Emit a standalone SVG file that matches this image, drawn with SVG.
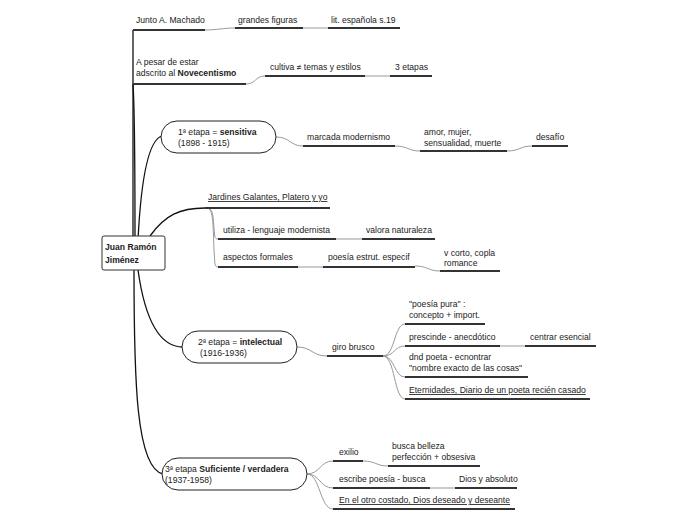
<svg xmlns="http://www.w3.org/2000/svg" width="696" height="520" viewBox="0 0 696 520">
<style>
text{font-family:"Liberation Sans",Arial,sans-serif;font-size:8.6px;fill:#222}
.b{font-weight:bold}
.u{text-decoration:underline}
.ul{stroke:#333;stroke-width:2;fill:none}
.g{stroke:#999;stroke-width:1;fill:none}
.t{stroke:#111;stroke-width:1.3;fill:none}
.pill{fill:#fff;stroke:#222;stroke-width:1}
</style>
<rect width="696" height="520" fill="#fff"/>
<g id="connectors">
<path class="t" d="M133,240 L133,30"/>
<path class="t" d="M135,240 C135,160 134,100 133,84"/>
<path class="t" d="M138,240 C141,180 148,140 162,136"/>
<path class="t" d="M150,236 C165,215 180,208 205,208"/>
<path class="t" d="M138,270 C145,320 160,347 183,347"/>
<path class="t" d="M134,270 C134,380 136,468 163,474"/>
<path class="g" d="M205,30 C218,30 222,28 235,28"/>
<path class="g" d="M303,28 L328,28"/>
<path class="g" d="M246,84 C256,84 255,76 265,76"/>
<path class="g" d="M365,76 L390,76"/>
<path class="g" d="M276,137 C290,137 290,146 303,146"/>
<path class="g" d="M395,146 C408,146 408,151 420,151"/>
<path class="g" d="M507,151 C520,151 520,146 532,146"/>
<path class="g" d="M207,208 C214,208 213,220 214,228 C215,236 214,239 218,239"/>
<path class="g" d="M207,208 C214,208 213,230 214,250 C215,262 214,267 218,267"/>
<path class="g" d="M336,239 L362,239"/>
<path class="g" d="M298,267 L323,267"/>
<path class="g" d="M415,266 C428,266 428,271 440,271"/>
<path class="g" d="M297,347 C312,347 312,356 327,356"/>
<path class="g" d="M383,356 C395,356 394,324 405,324"/>
<path class="g" d="M383,356 C395,356 394,346 405,346"/>
<path class="g" d="M383,356 C395,356 394,377 405,377"/>
<path class="g" d="M383,356 C395,356 394,399 405,399"/>
<path class="g" d="M500,346 L525,346"/>
<path class="g" d="M307,474 C320,474 320,461 333,461"/>
<path class="g" d="M307,474 C320,474 320,488 333,488"/>
<path class="g" d="M307,474 C320,474 320,509 333,509"/>
<path class="g" d="M363,461 C376,461 376,466 388,466"/>
<path class="g" d="M430,488 L455,488"/>
</g>
<g id="n-machado">
<path class="ul" d="M133,30 H205"/>
<text x="136" y="23">Junto A. Machado</text>
</g>
<g id="n-grandes">
<path class="ul" d="M235,28 H303"/>
<text x="238" y="23">grandes figuras</text>
</g>
<g id="n-lit">
<path class="ul" d="M328,28 H400"/>
<text x="331" y="23">lit. española s.19</text>
</g>
<g id="n-novecentismo">
<path class="ul" d="M133,84 H246"/>
<text x="136" y="65">A pesar de estar</text>
<text x="136" y="76">adscrito al <tspan class="b">Novecentismo</tspan></text>
</g>
<g id="n-cultiva">
<path class="ul" d="M265,76 H365"/>
<text x="270" y="70">cultiva ≠ temas y estilos</text>
</g>
<g id="n-3etapas">
<path class="ul" d="M390,76 H432"/>
<text x="395" y="70">3 etapas</text>
</g>
<g id="n-center">
<rect x="102" y="236" width="63" height="34" rx="2" fill="#fff" stroke="#333" stroke-width="1"/>
<text class="b" x="105" y="250">Juan Ramón</text>
<text class="b" x="105" y="263">Jiménez</text>
</g>
<g id="n-etapa1">
<rect class="pill" x="161" y="121" width="115" height="32" rx="16"/>
<text x="178" y="135">1ª etapa = <tspan class="b">sensitiva</tspan></text>
<text x="178" y="146">(1898 - 1915)</text>
</g>
<g id="n-marcada">
<path class="ul" d="M303,146 H395"/>
<text x="307" y="140">marcada modernismo</text>
</g>
<g id="n-amor">
<path class="ul" d="M420,151 H507"/>
<text x="424" y="135">amor, mujer,</text>
<text x="424" y="146">sensualidad, muerte</text>
</g>
<g id="n-desafio">
<path class="ul" d="M532,146 H568"/>
<text x="536" y="140">desafío</text>
</g>
<g id="n-jardines">
<path class="ul" d="M205,208 H330"/>
<text class="u" x="208" y="200">Jardines Galantes, Platero y yo</text>
</g>
<g id="n-utiliza">
<path class="ul" d="M218,239 H336"/>
<text x="223" y="233">utiliza - lenguaje modernista</text>
</g>
<g id="n-valora">
<path class="ul" d="M362,239 H435"/>
<text x="366" y="233">valora naturaleza</text>
</g>
<g id="n-aspectos">
<path class="ul" d="M218,267 H298"/>
<text x="223" y="260">aspectos formales</text>
</g>
<g id="n-poesia-estrut">
<path class="ul" d="M323,267 H415"/>
<text x="328" y="260">poesía estrut. especif</text>
</g>
<g id="n-vcorto">
<path class="ul" d="M440,271 H500"/>
<text x="444" y="256">v corto, copla</text>
<text x="444" y="266">romance</text>
</g>
<g id="n-etapa2">
<rect class="pill" x="182" y="331" width="115" height="32" rx="16"/>
<text x="198" y="345">2ª etapa = <tspan class="b">intelectual</tspan></text>
<text x="200" y="356">(1916-1936)</text>
</g>
<g id="n-giro">
<path class="ul" d="M327,356 H383"/>
<text x="332" y="350">giro brusco</text>
</g>
<g id="n-pura">
<path class="ul" d="M405,324 H485"/>
<text x="409" y="307">"poesía pura" :</text>
<text x="409" y="318">concepto + import.</text>
</g>
<g id="n-prescinde">
<path class="ul" d="M405,346 H500"/>
<text x="409" y="340">prescinde - anecdótico</text>
</g>
<g id="n-centrar">
<path class="ul" d="M525,346 H596"/>
<text x="530" y="340">centrar esencial</text>
</g>
<g id="n-dnd">
<path class="ul" d="M405,377 H528"/>
<text x="409" y="360">dnd poeta - ecnontrar</text>
<text x="409" y="371">"nombre exacto de las cosas"</text>
</g>
<g id="n-eternidades">
<path class="ul" d="M405,399 H590"/>
<text class="u" x="409" y="393">Eternidades, Diario de un poeta recién casado</text>
</g>
<g id="n-etapa3">
<rect class="pill" x="162" y="458" width="145" height="32" rx="16"/>
<text x="165" y="472">3ª etapa <tspan class="b">Suficiente / verdadera</tspan></text>
<text x="165" y="483">(1937-1958)</text>
</g>
<g id="n-exilio">
<path class="ul" d="M333,461 H363"/>
<text x="339" y="455">exilio</text>
</g>
<g id="n-busca">
<path class="ul" d="M388,466 H480"/>
<text x="392" y="449">busca belleza</text>
<text x="392" y="460">perfección + obsesiva</text>
</g>
<g id="n-escribe">
<path class="ul" d="M333,488 H430"/>
<text x="339" y="482">escribe poesía - busca</text>
</g>
<g id="n-dios">
<path class="ul" d="M455,488 H517"/>
<text x="459" y="482">Dios y absoluto</text>
</g>
<g id="n-costado">
<path class="ul" d="M333,509 H515"/>
<text class="u" x="339" y="503">En el otro costado, Dios deseado y deseante</text>
</g>
</svg>
